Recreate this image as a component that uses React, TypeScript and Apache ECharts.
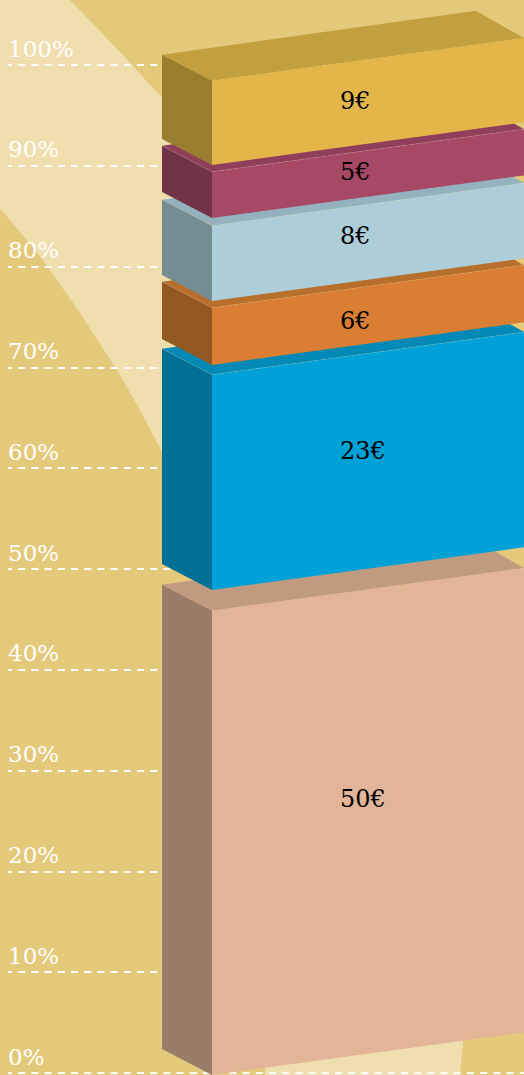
import React, { useEffect, useRef } from "react";
import * as echarts from "echarts";

// Value of each label and box, read against the 0–100 % axis (front-left edge of each box)
const amounts = [50, 23, 6, 8, 5, 9];
const boxLow = [-0.2, 47.92, 70.24, 76.59, 84.82, 90.08];
const boxHigh = [45.87, 69.28, 75.92, 84.06, 89.41, 98.44];
const labelAt = [27.18, 61.7, 74.6, 83.03, 89.38, 96.43];
const frontColors = ["#e2b498", "#00a1d6", "#d97e32", "#adcdd8", "#a84867", "#e4b64a"];
const topColors = ["#c09b80", "#0289b6", "#b96f2c", "#93b2be", "#8f3f5c", "#c2a040"];
const sideColors = ["#9a7d68", "#007097", "#925822", "#748d93", "#733347", "#9a7e30"];
const seamAlpha = [0, 0.18, 0.18, 0.18, 0.18, 0];

const bandUpper: number[][] = [
  [0, 0], [70, 0], [120, 52], [175, 112], [175, 476], [162, 452], [140, 410], [117, 370],
  [80, 313], [43, 260], [20, 232], [0, 208],
];
const bandLower: number[][] = [[265, 1060], [464, 1030], [460, 1075], [265, 1075]];

const SIDE_X = 162;
const FRONT_X = 212;
const BACK_X = 476;
const RIGHT_X = 524;
const DEPTH = 26;
const RISE = 42.6;
const BACK_RISE = 70;

export default function App() {
  const ref = useRef<HTMLDivElement>(null);
  useEffect(() => {
    document.body.style.margin = "0";
    const chart = echarts.init(ref.current!, null, { renderer: "svg" });
    const renderItem = (_p: any, api: any) => {
      const i = api.value(0);
      const xOf = (x: number) => api.coord([x, 0])[0];
      const t = api.coord([0, api.value(2)])[1];
      const b = api.coord([0, api.value(1)])[1];
      const ly = api.coord([0, api.value(3)])[1];
      return {
        type: "group",
        children: [
          {
            type: "polygon",
            shape: { points: [[xOf(SIDE_X), t - DEPTH], [xOf(BACK_X), t - BACK_RISE], [xOf(RIGHT_X), t - RISE], [xOf(FRONT_X), t]] },
            style: { fill: topColors[i] },
          },
          {
            type: "polygon",
            shape: { points: [[xOf(SIDE_X), t - DEPTH], [xOf(FRONT_X), t], [xOf(FRONT_X), b], [xOf(SIDE_X), b - DEPTH]] },
            style: { fill: sideColors[i] },
          },
          {
            type: "polygon",
            shape: { points: [[xOf(FRONT_X), t], [xOf(RIGHT_X), t - RISE], [xOf(RIGHT_X), b - RISE], [xOf(FRONT_X), b]] },
            style: { fill: frontColors[i] },
          },
          {
            type: "polyline",
            shape: { points: [[xOf(SIDE_X), t - DEPTH], [xOf(FRONT_X), t], [xOf(RIGHT_X), t - RISE]] },
            style: { fill: "none", stroke: `rgba(255,255,255,${seamAlpha[i]})`, lineWidth: 0.7 },
          },
          {
            type: "text",
            x: xOf(340),
            y: ly,
            style: {
              text: `${api.value(4)}€`,
              fill: "#000",
              font: '24px "DejaVu Serif"',
              align: "left",
              verticalAlign: "middle",
            },
          },
        ],
      };
    };
    chart.setOption({
      animation: false,
      backgroundColor: "#e5c97b",
      graphic: [
        { type: "polygon", z: -10, silent: true, shape: { points: bandUpper }, style: { fill: "#f1deae" } },
        { type: "polygon", z: -10, silent: true, shape: { points: bandLower }, style: { fill: "#f1deae" } },
      ],
      grid: { left: 8, right: 0, top: 65, bottom: 2 },
      xAxis: { type: "value", min: 8, max: 524, show: false },
      yAxis: {
        type: "value",
        min: 0,
        max: 100,
        interval: 10,
        axisLine: { show: false },
        axisTick: { show: false },
        splitLine: {
          show: true,
          showMinLine: true,
          showMaxLine: true,
          lineStyle: { color: "#fff", width: 2, type: [7, 6.2], dashOffset: 2.5 },
        },
        axisLabel: {
          inside: true,
          margin: 0,
          color: "#fff",
          fontFamily: "DejaVu Serif",
          fontSize: 23,
          verticalAlign: "bottom",
          padding: [0, 0, 5, 0],
          showMinLabel: true,
          showMaxLabel: true,
          formatter: "{value}%",
        },
      },
      series: [
        {
          type: "custom",
          z: 3,
          silent: true,
          clip: false,
          renderItem,
          encode: { x: 0, y: 2 },
          data: amounts.map((a, i) => [i, boxLow[i], boxHigh[i], labelAt[i], a]),
        },
      ],
    });
    return () => chart.dispose();
  }, []);
  return <div ref={ref} style={{ width: 524, height: 1075 }} />;
}
